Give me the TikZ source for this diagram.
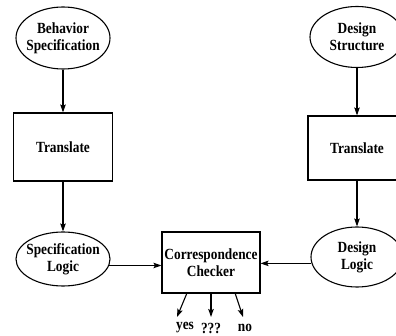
\documentclass[tikz,border=0pt]{standalone}
\usepackage{fontspec}
\setmainfont{Liberation Serif}[FakeStretch=0.86]
\usetikzlibrary{shapes.geometric,arrows.meta}
\tikzset{
  oval/.style={draw, ellipse, line width=1.1pt, inner sep=0pt},
  stepbox/.style={draw, rectangle, line width=1.1pt, inner sep=0pt, align=center},
  conn/.style={line width=1.1pt, -{Stealth[length=8pt,width=5.5pt,inset=1.5pt]}},
  lab/.style={align=center, inner sep=0pt},
  outlab/.style={inner sep=0pt},
}
\begin{document}
\begin{tikzpicture}[x=1pt,y=-1pt,font=\fontsize{15.5}{17}\selectfont\bfseries]
\useasboundingbox (0,0) rectangle (396,336);
\clip (0,0) rectangle (396,336);
% left column
\node[oval, minimum width=94pt, minimum height=62pt, label={[lab]center:Behavior\\Specification}] (bs) at (63,38) {};
\node[stepbox, minimum width=99pt, minimum height=68pt] (t1) at (63,147) {Translate};
\node[oval, minimum width=94pt, minimum height=54pt, label={[lab]center:Specification\\Logic}] (sl) at (63,259) {};
% right column
\node[oval, minimum width=94pt, minimum height=61pt, label={[lab]center:Design\\Structure}] (ds) at (357,37) {};
\node[stepbox, minimum width=98pt, minimum height=64pt] (t2) at (357,148) {Translate};
\node[oval, minimum width=92pt, minimum height=60pt, label={[lab]center:Design\\Logic}] (dl) at (357,257) {};
% checker
\node[stepbox, minimum width=98pt, minimum height=61pt, label={[lab]center:Correspondence\\Checker}] (cc) at (211,262.5) {};
% connectors
\draw[conn] (bs.south) -- (bs.south |- t1.north);
\draw[conn] (t1.south) -- (t1.south |- sl.north);
\draw[conn] (ds.south) -- (ds.south |- t2.north);
\draw[conn] (t2.south) -- (t2.south |- dl.north);
\draw[conn] (sl.-8) -- (sl.-8 -| cc.west);
\draw[conn] (dl.188) -- (dl.188 -| cc.east);
% outputs
\coordinate (ya) at (187,293);
\coordinate (qa) at (211,293);
\coordinate (na) at (235,293);
\node[outlab] (yes) at (185,328) {yes};
\node[outlab] (qqq) at (211,328) {???};
\node[outlab] (no) at (245,328) {no};
\coordinate (yb) at (177,317);
\coordinate (qb) at (211,317);
\coordinate (nb) at (243,317);
\draw[conn] (ya) -- (yb);
\draw[conn] (qa) -- (qb);
\draw[conn] (na) -- (nb);
\end{tikzpicture}
\end{document}
